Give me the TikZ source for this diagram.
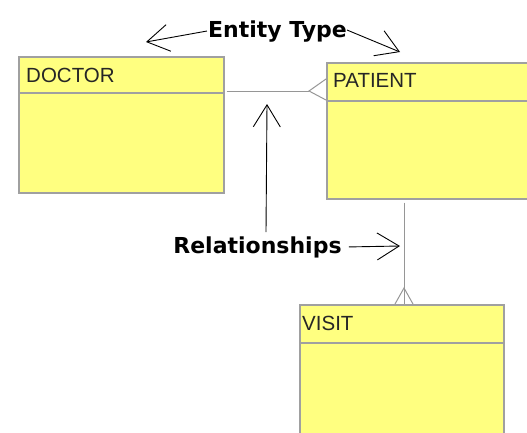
\documentclass[tikz,border=0pt]{standalone}
\usepackage{fontspec}
\setmainfont{Liberation Sans}
\newfontfamily\calloutfont{DejaVu Sans}
\usetikzlibrary{arrows.meta}

\definecolor{entfill}{RGB}{255,255,128}
\definecolor{entline}{RGB}{160,160,160}
\definecolor{relline}{RGB}{150,150,150}

\tikzset{
  entity/.style={draw=entline, line width=1.6pt, fill=entfill, anchor=north west, inner sep=0pt},
  divider/.style={draw=entline, line width=1.6pt},
  entname/.style={anchor=base west, inner sep=0pt, font=\fontsize{20.5}{24}\selectfont, text=black!85},
  relation/.style={draw=relline, line width=1pt},
  callout/.style={inner sep=0pt, font=\calloutfont\bfseries\fontsize{22}{26}\selectfont},
  pointer/.style={draw=black, line width=0.9pt, -{Straight Barb[length=22pt,width=27pt]}},
}

\begin{document}
\begin{tikzpicture}[x=1pt,y=-1pt]
  \useasboundingbox (0,0) rectangle (527,432);
  \clip (0,0) rectangle (527,432);

  % entity boxes
  \node[entity, minimum width=205pt, minimum height=136pt] (doc) at (18,56) {};
  \node[entity, minimum width=215pt, minimum height=136pt] (pat) at (326,62) {};
  \node[entity, minimum width=204pt, minimum height=150pt] (vis) at (299,304) {};

  % header separators
  \draw[divider] ([yshift=-37pt]doc.north west) -- ([yshift=-37pt]doc.north east);
  \draw[divider] ([yshift=-39pt]pat.north west) -- ([yshift=-39pt]pat.north east);
  \draw[divider] ([yshift=-39pt]vis.north west) -- ([yshift=-39pt]vis.north east);

  % entity names
  \node[entname] (docname) at ([xshift=8pt,yshift=-26pt]doc.north west) {DOCTOR};
  \node[entname] (patname) at ([xshift=7pt,yshift=-25pt]pat.north west) {PATIENT};
  \node[entname] (visname) at ([xshift=3pt,yshift=-26pt]vis.north west) {VISIT};

  % DOCTOR -- PATIENT (many on the PATIENT side)
  \coordinate (dpcrow) at ([xshift=-17pt,yshift=-29pt]pat.north west);
  \draw[relation] ([xshift=2pt,yshift=-35pt]doc.north east) -- (dpcrow);
  \draw[relation] ([yshift=-17pt]pat.north west) -- (dpcrow) -- ([yshift=-38pt]pat.north west);

  % PATIENT -- VISIT (many on the VISIT side)
  \coordinate (pvtop) at ([xshift=78pt,yshift=-3pt]pat.south west);
  \coordinate (pvcrow) at ([xshift=105pt,yshift=16pt]vis.north west);
  \draw[relation] (pvtop) -- ([xshift=105pt]vis.north west);
  \draw[relation] ([xshift=96pt]vis.north west) -- (pvcrow) -- ([xshift=114pt]vis.north west);

  % callouts
  \node[callout, anchor=base] (et) at (277.5,37) {Entity Type};
  \node[callout, anchor=base] (rs) at (257.5,253) {Relationships};

  \coordinate (etL) at (146,42);
  \coordinate (etR) at (400,52);
  \coordinate (rsUp) at (267,104);
  \coordinate (rsFoot) at (266,232);
  \coordinate (rsRight) at (400,246);

  \draw[pointer] ([xshift=-1pt]et.west) -- (etL);
  \draw[pointer] ([yshift=1pt]et.east) -- (etR);
  \draw[pointer] (rsFoot) -- (rsUp);
  \draw[pointer] ([xshift=7pt]rs.east) -- (rsRight);
\end{tikzpicture}
\end{document}
